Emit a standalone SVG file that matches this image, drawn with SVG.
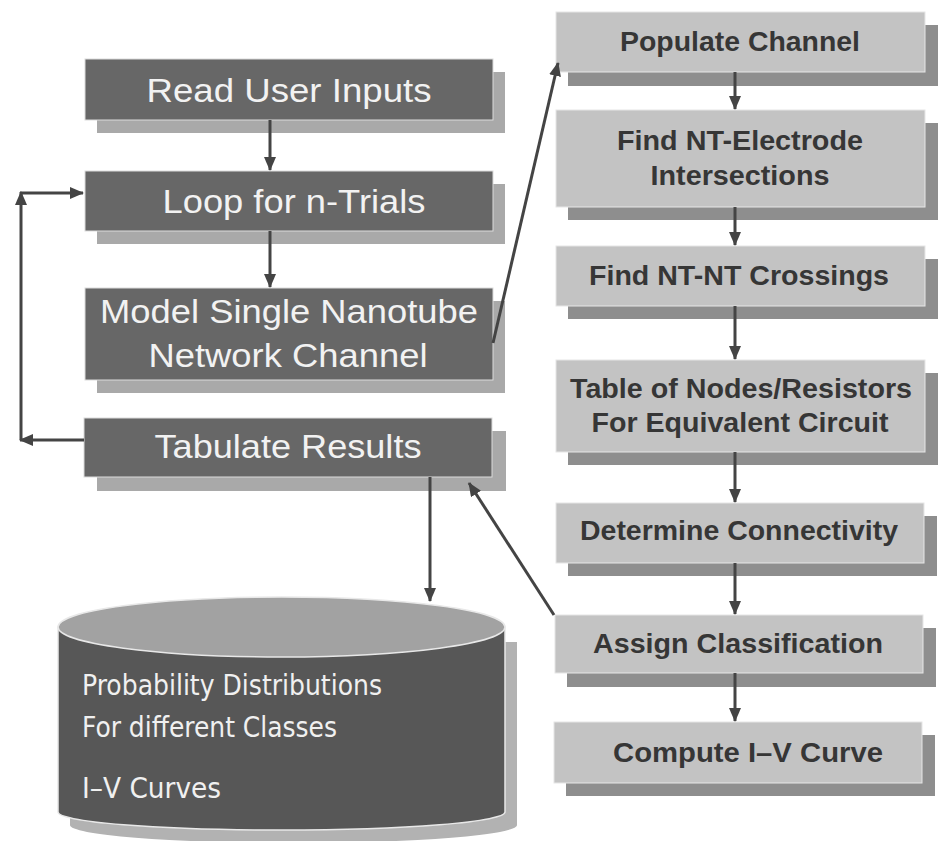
<svg xmlns="http://www.w3.org/2000/svg" width="944" height="841" viewBox="0 0 944 841">
<style>
.lbox{fill:#676767;stroke:#dcdcdc;stroke-width:1}
.lsh{fill:#a9a9a9}
.rbox{fill:#c3c3c3;stroke:#e6e6e6;stroke-width:1}
.rsh{fill:#8e8e8e}
.lt{font-family:"Liberation Sans",Arial,sans-serif;font-size:33px;fill:#f2f2f2;text-anchor:middle}
.rt{font-family:"Liberation Sans",Arial,sans-serif;font-size:27px;font-weight:bold;fill:#363636;text-anchor:middle}
.ct{font-family:"DejaVu Sans Condensed","DejaVu Sans",sans-serif;font-size:28px;fill:#f0f0f0}
.con{fill:none;stroke:#444;stroke-width:3}
</style>
<defs>
<marker id="ah" viewBox="0 0 14 12" refX="13" refY="6" markerWidth="14" markerHeight="12" markerUnits="userSpaceOnUse" orient="auto">
<path d="M0,0 L14,6 L0,12 Z" fill="#444"/>
</marker>
</defs>
<rect width="944" height="841" fill="#ffffff"/>

<g id="read">
<rect class="lsh" x="97" y="72" width="408" height="61"/>
<rect class="lbox" x="85" y="59" width="408" height="61"/>
<text class="lt" x="289" y="102" textLength="285" lengthAdjust="spacingAndGlyphs">Read User Inputs</text>
</g>
<g id="loop">
<rect class="lsh" x="97" y="184" width="408" height="60"/>
<rect class="lbox" x="85" y="171" width="408" height="60"/>
<text class="lt" x="294" y="213" textLength="263" lengthAdjust="spacingAndGlyphs">Loop for n-Trials</text>
</g>
<g id="model">
<rect class="lsh" x="97" y="301" width="408" height="92"/>
<rect class="lbox" x="85" y="288" width="408" height="92"/>
<text class="lt" x="289" y="323" textLength="378" lengthAdjust="spacingAndGlyphs">Model Single Nanotube</text>
<text class="lt" x="288" y="367" textLength="279" lengthAdjust="spacingAndGlyphs">Network Channel</text>
</g>
<g id="tabulate">
<rect class="lsh" x="97" y="431" width="409" height="60"/>
<rect class="lbox" x="84" y="418" width="408" height="59"/>
<text class="lt" x="288" y="458" textLength="267" lengthAdjust="spacingAndGlyphs">Tabulate Results</text>
</g>

<g id="database">
<path d="M70,642 V825 A223.5,18 0 0 0 517,825 V642 Z" fill="#b2b2b2"/>
<path d="M58,627 V812 A223.5,18 0 0 0 505,812 V627 Z" fill="#575757" stroke="#e8e8e8" stroke-width="1.5"/>
<ellipse cx="281.5" cy="627" rx="223.5" ry="30" fill="#a2a2a2" stroke="#e8e8e8" stroke-width="1.5"/>
<text class="ct" x="82" y="695" textLength="300" lengthAdjust="spacingAndGlyphs">Probability Distributions</text>
<text class="ct" x="82" y="737" textLength="255" lengthAdjust="spacingAndGlyphs">For different Classes</text>
<text class="ct" x="82" y="798" textLength="139" lengthAdjust="spacingAndGlyphs">I–V Curves</text>
</g>

<g id="populate">
<rect class="rsh" x="568" y="25" width="370" height="61"/>
<rect class="rbox" x="556" y="12" width="369" height="60"/>
<text class="rt" x="740" y="51" textLength="240" lengthAdjust="spacingAndGlyphs">Populate Channel</text>
</g>
<g id="electrode">
<rect class="rsh" x="568" y="123" width="370" height="97"/>
<rect class="rbox" x="556" y="110" width="369" height="97"/>
<text class="rt" x="740" y="150" textLength="246" lengthAdjust="spacingAndGlyphs">Find NT-Electrode</text>
<text class="rt" x="740" y="185" textLength="179" lengthAdjust="spacingAndGlyphs">Intersections</text>
</g>
<g id="crossings">
<rect class="rsh" x="568" y="259" width="370" height="60"/>
<rect class="rbox" x="556" y="246" width="369" height="60"/>
<text class="rt" x="739" y="285" textLength="300" lengthAdjust="spacingAndGlyphs">Find NT-NT Crossings</text>
</g>
<g id="table">
<rect class="rsh" x="568" y="373" width="370" height="92"/>
<rect class="rbox" x="556" y="360" width="369" height="92"/>
<text class="rt" x="741" y="398" textLength="342" lengthAdjust="spacingAndGlyphs">Table of Nodes/Resistors</text>
<text class="rt" x="740" y="432" textLength="297" lengthAdjust="spacingAndGlyphs">For Equivalent Circuit</text>
</g>
<g id="connectivity">
<rect class="rsh" x="568" y="516" width="369" height="60"/>
<rect class="rbox" x="556" y="503" width="368" height="60"/>
<text class="rt" x="739" y="540" textLength="318" lengthAdjust="spacingAndGlyphs">Determine Connectivity</text>
</g>
<g id="classification">
<rect class="rsh" x="567" y="628" width="369" height="59"/>
<rect class="rbox" x="555" y="615" width="368" height="58"/>
<text class="rt" x="738" y="653" textLength="290" lengthAdjust="spacingAndGlyphs">Assign Classification</text>
</g>
<g id="compute">
<rect class="rsh" x="566" y="735" width="369" height="61"/>
<rect class="rbox" x="554" y="722" width="368" height="61"/>
<text class="rt" x="748" y="762" textLength="270" lengthAdjust="spacingAndGlyphs">Compute I–V Curve</text>
</g>

<g id="connectors">
<line class="con" x1="270" y1="120" x2="270" y2="170" marker-end="url(#ah)"/>
<line class="con" x1="270" y1="231" x2="270" y2="287" marker-end="url(#ah)"/>
<line class="con" x1="84" y1="440" x2="20" y2="440" marker-end="url(#ah)"/>
<line class="con" x1="21" y1="440" x2="21" y2="192" marker-end="url(#ah)"/>
<line class="con" x1="20" y1="193" x2="83" y2="193" marker-end="url(#ah)"/>
<line class="con" x1="493" y1="343" x2="558" y2="63" marker-end="url(#ah)"/>
<line class="con" x1="430" y1="477" x2="430" y2="601" marker-end="url(#ah)"/>
<line class="con" x1="554" y1="615" x2="469" y2="483" marker-end="url(#ah)"/>
<line class="con" x1="735" y1="72" x2="735" y2="109" marker-end="url(#ah)"/>
<line class="con" x1="735" y1="207" x2="735" y2="245" marker-end="url(#ah)"/>
<line class="con" x1="735" y1="306" x2="735" y2="359" marker-end="url(#ah)"/>
<line class="con" x1="735" y1="452" x2="735" y2="502" marker-end="url(#ah)"/>
<line class="con" x1="735" y1="563" x2="735" y2="614" marker-end="url(#ah)"/>
<line class="con" x1="735" y1="673" x2="735" y2="721" marker-end="url(#ah)"/>
</g>
</svg>
